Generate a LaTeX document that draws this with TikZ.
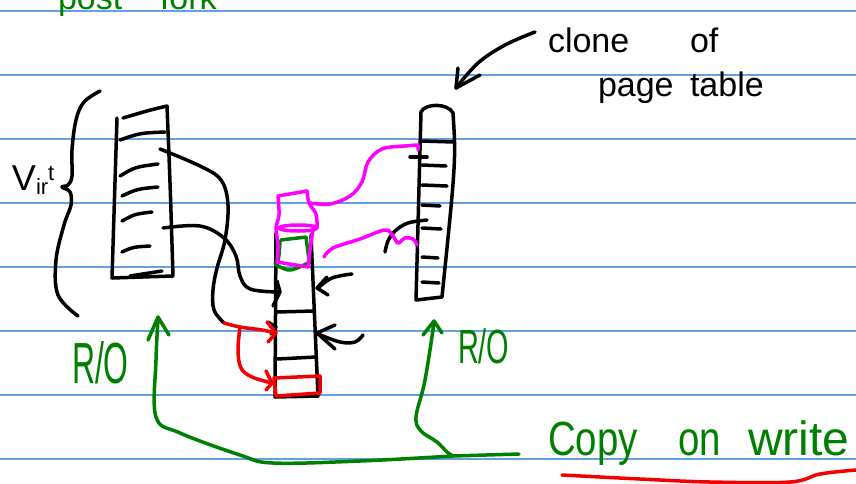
\documentclass[tikz,border=0pt]{standalone}
\usepackage{fontspec}
\setmainfont{Liberation Sans}
\definecolor{rulec}{RGB}{100,160,230}
\definecolor{grn}{RGB}{0,128,0}
\definecolor{mag}{RGB}{255,0,255}
\definecolor{rd}{RGB}{245,0,0}
\begin{document}
\begin{tikzpicture}[x=1pt,y=-1pt,
  pen/.style={line width=3.5pt, line cap=round, line join=round},
  gpen/.style={pen, grn},
  mpen/.style={pen, mag},
  rpen/.style={pen, rd},
  rulel/.style={rulec, line width=1.4pt},
  hand/.style={inner sep=0pt, outer sep=0pt, anchor=base west},
  sm/.style={smooth, tension=0.6}]
\useasboundingbox (0,0) rectangle (856,483);
\fill[white] (0,0) rectangle (856,483);
\foreach \y in {11,75,...,459} \draw[rulel] (0,\y) -- (856,\y);

% title (cut off at the top, as in the reference)
\node[hand, grn, font=\fontsize{34}{34}\selectfont] (post) at (58,9) {post};
\node[hand, grn, font=\fontsize{34}{34}\selectfont] (fork) at (160,9) {fork};

% Virt brace
\node[hand] (virt) at (12,190) {{\fontsize{36}{36}\selectfont V}{\fontsize{22}{22}\selectfont\raisebox{-4pt}{ir}\raisebox{10pt}{t}}};
\draw[pen] plot[sm] coordinates {(100,91) (84,102) (76,120) (72,150) (72,176) (68,185) (62,187) (70,192) (71,205) (64,225) (56,260) (58,295) (78,316)};

% left table
\draw[pen] (123,118) .. controls (150,110) .. (167,106) .. controls (170,180) .. (173,276) -- (112,278) -- (117,118);
\draw[pen] (120,140) .. controls (140,133) .. (165,132);
\draw[pen] (120,176) .. controls (135,167) .. (158,164);
\draw[pen] (122,196) .. controls (137,189) .. (158,187);
\draw[pen] (122,221) .. controls (135,214) .. (152,212);
\draw[pen] (122,252) .. controls (133,247) .. (150,246);
\draw[pen] (130,276) -- (162,271);

% middle column
\draw[pen] (276,233) -- (275,397) -- (318,396) -- (311,235);
\draw[pen] (277,312) -- (314,311);
\draw[pen] (277,359) -- (316,357);

% right table
\draw[pen] (416,300) -- (421,112) .. controls (425,103) and (448,103) .. (453,113) .. controls (456,160) .. (442,297) -- cycle;
\draw[pen] (421,141) -- (454,142);
\draw[pen] (410,157) -- (427,157);
\foreach \ya/\xb in {165/446,185/447,205/440,228/441,257/438,282/439}
  \draw[pen] (422,\ya) -- (\xb,\ya+1);
\draw[pen] plot[sm] coordinates {(385,252) (388,241) (395,231) (408,223) (427,220)};

% clone-of arrow and text
\draw[pen] plot[sm] coordinates {(535,32) (505,45) (478,63) (456,88)};
\draw[pen] (458,68) -- (456,88) -- (480,75);
\node[hand, font=\fontsize{34}{34}\selectfont] (clone) at (548,52) {clone};
\node[hand, font=\fontsize{34}{34}\selectfont] (of) at (690,52) {of};
\node[hand, font=\fontsize{34}{34}\selectfont] (page) at (598,96) {page};
\node[hand, font=\fontsize{34}{34}\selectfont] (table) at (690,96) {table};

% connectors from left table into memory
\draw[pen] plot[sm] coordinates {(160,149) (200,166) (221,180) (228,205) (225,240) (217,268) (213,290) (214,310) (224,323)};
\draw[pen] (268,322) -- (276,327) -- (271,334);
\draw[pen] plot[sm] coordinates {(163,228) (200,226) (224,238) (236,256) (240,276) (250,289) (278,292)};
\draw[pen] (277,281) -- (280,292) -- (273,306);

% arrows from the right into memory
\draw[pen] plot[sm] coordinates {(352,274) (332,278) (318,288)};
\draw[pen] (327,277) -- (317,288) -- (328,295);
\draw[pen] plot[sm] coordinates {(363,335) (355,342) (340,342) (318,334)};
\draw[pen] (335,325) -- (317,333) -- (335,349);

% red
\draw[rpen] plot[sm] coordinates {(224,323) (240,327) (262,330) (276,333)};
\draw[rpen] (267,322) -- (276,333) -- (268,342);
\draw[rpen] plot[sm] coordinates {(240,327) (238,350) (241,368) (252,377) (272,383)};
\draw[rpen] (266,371) -- (272,383) -- (266,390);
\draw[rpen] (274,378) -- (320,376) -- (320,393) -- (276,396) -- cycle;

% green frame on memory
\draw[gpen] (281,240) -- (306,237) -- (309,260);
\draw[gpen] plot[sm] coordinates {(280,241) (279,255) (277,265)};
\draw[gpen] plot[sm] coordinates {(275,264) (290,270) (310,262)};

% magenta
\draw[mpen] (278,196) -- (307,191);
\draw[mpen] plot[sm] coordinates {(307,191) (309,203) (316,214) (317,227)};
\draw[mpen] plot[sm] coordinates {(278,196) (279,215) (276,228) (278,245) (277,262)};
\draw[mpen] (298,228) ellipse (19 and 3);
\draw[mpen] plot[sm] coordinates {(313,230) (310,250) (308,267)};
\draw[mpen] (277,262) -- (308,267);
\draw[mpen] plot[sm] coordinates {(310,203) (330,204) (350,196) (362,182) (368,162) (382,149) (405,146) (418,145)} -- (418,150);
\draw[mpen] plot[sm] coordinates {(324,257) (333,248) (360,239) (385,230) (393,236) (398,243) (405,238) (413,239) (417,245)};

% green R/O arrows
\draw[gpen] plot[sm] coordinates {(158,320) (156,360) (156,417) (180,433) (240,455) (273,463) (360,461) (453,456)} -- (519,454);
\draw[gpen] (148,340) -- (158,317) -- (169,335);
\draw[gpen] plot[sm] coordinates {(434,322) (430,350) (424,385) (416,417) (421,431) (437,442) (447,452) (453,456)};
\draw[gpen] (423,335) -- (434,321) -- (442,333);
\node[hand, grn] (ro1) at (72,383) {\scalebox{0.55}[1]{\fontsize{58}{58}\selectfont R/O}};
\node[hand, grn] (ro2) at (458,363) {\scalebox{0.6}[1]{\fontsize{48}{48}\selectfont R/O}};

% copy on write
\node[hand, grn] (copy) at (548,455) {\scalebox{0.8}[1]{\fontsize{48}{48}\selectfont Copy}};
\node[hand, grn] (on) at (678,455) {\scalebox{0.8}[1]{\fontsize{48}{48}\selectfont on}};
\node[hand, grn] (write) at (748,455) {\fontsize{48}{48}\selectfont write};
\draw[rpen] plot[sm] coordinates {(562,475) (640,479) (710,482) (790,482) (820,474) (856,470)};
\end{tikzpicture}
\end{document}
